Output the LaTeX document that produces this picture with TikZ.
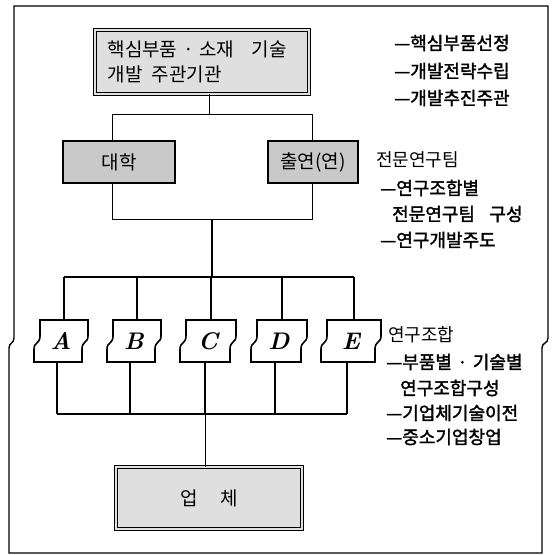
\documentclass[tikz,border=0pt]{standalone}
\usepackage{fontspec}
\newfontfamily\kr{Noto Sans CJK KR}
\newfontfamily\krb{Noto Sans CJK KR}[FakeBold=1.8]
\newcommand\rbox[2]{% center x, half width
  \draw[lnB,fill=white] (#1-#2,320) -- (#1+#2,320) -- (#1+#2,336)
    .. controls (#1+#2,343) and (#1+#2-6,341) .. (#1+#2-6,349) -- (#1+#2-6,362)
    -- (#1-#2-6,362) -- (#1-#2-6,349)
    .. controls (#1-#2-6,342) and (#1-#2,344) .. (#1-#2,336) -- cycle;}
\newcommand\mdot{\hspace{0.3em}·\hspace{0.3em}}
\begin{document}
\begin{tikzpicture}[x=1pt,y=-1pt,
  lnA/.style={line width=1pt},
  lnB/.style={line width=1.6pt},
  dblbox/.style={draw, line width=0.8pt, double=gray!25, double distance=1.6pt, fill=gray!25, inner sep=0pt},
  darkbox/.style={draw, line width=1.4pt, fill=gray!42, inner sep=0pt},
  btxt/.style={font=\kr\fontsize{19}{25}\selectfont},
  rtxt/.style={font=\krb\fontsize{18}{20}\selectfont, anchor=west, inner sep=0pt},
  htxt/.style={font=\kr\fontsize{18}{20}\selectfont, anchor=west, inner sep=0pt},
  lett/.style={font=\fontsize{24}{26}\selectfont\bfseries\itshape, minimum height=42pt, inner sep=0pt}
]
\useasboundingbox (0,0) rectangle (552,555);
% frame
\draw[line width=1.4pt] (14,338) -- (14,6) -- (548,6) -- (548,338)
  .. controls (548,344) and (542,342) .. (542,348) -- (542,553) -- (9,553) -- (9,348)
  .. controls (9,342) and (14,344) .. (14,338);
% top box
\node[dblbox, minimum width=214pt, minimum height=64pt] (top) at (202,62) {};
\node[btxt, anchor=west, align=left] (toptxt) at (104,62) {핵심부품\mdot 소재\hspace{0.9em}기술\\개발\hspace{0.5em}주관기관};
% second level
\node[darkbox, minimum width=112pt, minimum height=42pt] (univ) at (119,162) {};
\node[btxt] (univt) at (univ) {대학};
\node[darkbox, minimum width=90pt, minimum height=42pt] (inst) at (313,162) {};
\node[btxt] (instt) at (inst) {출연(연)};
% connectors upper
\coordinate (j1) at (209,114);
\coordinate (jl) at (112,114);
\coordinate (jr) at (312,114);
\draw[lnA] (top.south -| j1) -- (j1);
\draw[lnA] (jl) -- (jr);
\draw[lnA] (jl) -- (jl |- univ.north);
\draw[lnA] (jr) -- (jr |- inst.north);
\coordinate (kl) at (112,219);
\coordinate (kr) at (312,219);
\coordinate (k) at (212,219);
\coordinate (m) at (212,277);
\draw[lnA] (univ.south -| kl) -- (kl) -- (kr) -- (inst.south -| kr);
\draw[lnB] (k) -- (m);
% A-E boxes
\rbox{64}{24}
\rbox{137}{24}
\rbox{211}{25}
\rbox{282}{25}
\rbox{354}{27}
\node[lett, minimum width=48pt] (A) at (61,341) {A};
\node[lett, minimum width=48pt] (B) at (134,341) {B};
\node[lett, minimum width=50pt] (C) at (208,341) {C};
\node[lett, minimum width=50pt] (D) at (279,341) {D};
\node[lett, minimum width=54pt] (E) at (351,341) {E};
\coordinate (ha) at (64,277);
\coordinate (hb) at (137,277);
\coordinate (hc) at (211,277);
\coordinate (hd) at (282,277);
\coordinate (he) at (354,277);
\draw[lnB] (ha) -- (he);
\foreach \h/\b in {ha/A,hb/B,hc/C,hd/D,he/E} \draw[lnB] (\h) -- (\h |- \b.north);
\coordinate (la) at (57,414);
\coordinate (lb) at (130,414);
\coordinate (lc) at (205,414);
\coordinate (ld) at (275,414);
\coordinate (le) at (347,414);
\draw[lnB] (la) -- (le);
\foreach \l/\b in {la/A,lb/B,lc/C,ld/D,le/E} \draw[lnB] (\b.south -| \l) -- (\l);
% bottom box
\node[dblbox, minimum width=186pt, minimum height=62pt] (firm) at (209,498) {};
\node[btxt] (firmt) at (firm) {업\hspace{1.2em}체};
\draw[lnA] (lc) -- (lc |- firm.north);
% right texts
\node[rtxt] (r1) at (394,43) {—핵심부품선정};
\node[rtxt] (r2) at (394,71) {—개발전략수립};
\node[rtxt] (r3) at (394,98) {—개발추진주관};
\node[htxt] (s0) at (376,160) {전문연구팀};
\node[rtxt] (s1) at (380,188) {—연구조합별};
\node[rtxt] (s2) at (392,214) {전문연구팀\hspace{0.8em}구성};
\node[rtxt] (s3) at (380,240) {—연구개발주도};
\node[htxt] (t0) at (388,335) {연구조합};
\node[rtxt] (t1) at (386,362) {—부품별\mdot 기술별};
\node[rtxt] (t2) at (400,388) {연구조합구성};
\node[rtxt] (t3) at (386,413) {—기업체기술이전};
\node[rtxt] (t4) at (386,437) {—중소기업창업};
\end{tikzpicture}
\end{document}
